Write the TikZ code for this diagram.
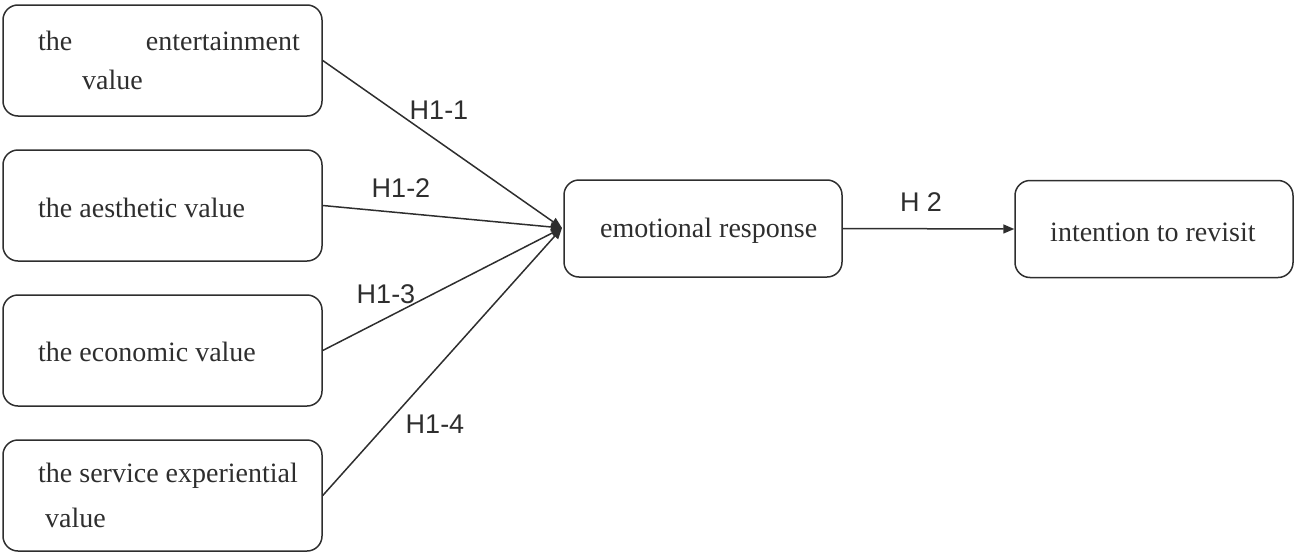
\documentclass[tikz,border=0pt]{standalone}
\usepackage{fontspec}
\setmainfont{Liberation Serif}
\newfontfamily\labfont{Liberation Sans}
\usetikzlibrary{arrows.meta}
\definecolor{edge}{HTML}{2E2E2E}
\begin{document}
\begin{tikzpicture}[x=1pt,y=-1pt,
  box/.style={draw=edge,line width=1.5pt,rounded corners=15pt,inner sep=0pt},
  lbox/.style={box,minimum width=319pt,minimum height=111pt},
  rbox/.style={box,minimum width=278pt,minimum height=97pt},
  btxt/.style={anchor=west,inner sep=0pt,text=edge,font=\fontsize{28}{32}\selectfont},
  hlab/.style={inner sep=0pt,text=edge,font=\labfont\fontsize{27}{31}\selectfont},
  conn/.style={draw=edge,line width=1.5pt,-{Triangle[length=11pt,width=9pt]}}]
\useasboundingbox (0,0) rectangle (1313,554);
\node[lbox] (b1) at (162.5,60.5) {};
\node[lbox] (b2) at (162.5,205.5) {};
\node[lbox] (b3) at (162.5,350.5) {};
\node[lbox] (b4) at (162.5,495.5) {};
\node[rbox] (emo) at (703,228.5) {};
\node[rbox] (int) at (1154,229) {};
\node[btxt] (t1a) at (38,41) {the};
\node[btxt,anchor=east] (t1b) at (300,41) {entertainment};
\node[btxt] (t1c) at (82,80) {value};
\node[btxt] (t2) at (38,208) {the aesthetic value};
\node[btxt] (t3) at (38,352) {the economic value};
\node[btxt] (t4a) at (38,476) {the service experiential};
\node[btxt] (t4b) at (45,518) {value};
\node[btxt] (te) at (600,231) {emotional response};
\node[btxt] (ti) at (1050,232) {intention to revisit};
\coordinate (hub) at (562,228);
\draw[conn] (b1.east) -- (hub);
\draw[conn] (b2.east) -- (hub);
\draw[conn] (b3.east) -- (hub);
\draw[conn] (b4.east) -- (hub);
\draw[conn] (emo.east) -- (int.west);
\node[hlab] (h11) at (439,110) {H1-1};
\node[hlab] (h12) at (401,188) {H1-2};
\node[hlab] (h13) at (386,294) {H1-3};
\node[hlab] (h14) at (435,424) {H1-4};
\node[hlab] (h2) at (921,202) {H 2};
\end{tikzpicture}
\end{document}
